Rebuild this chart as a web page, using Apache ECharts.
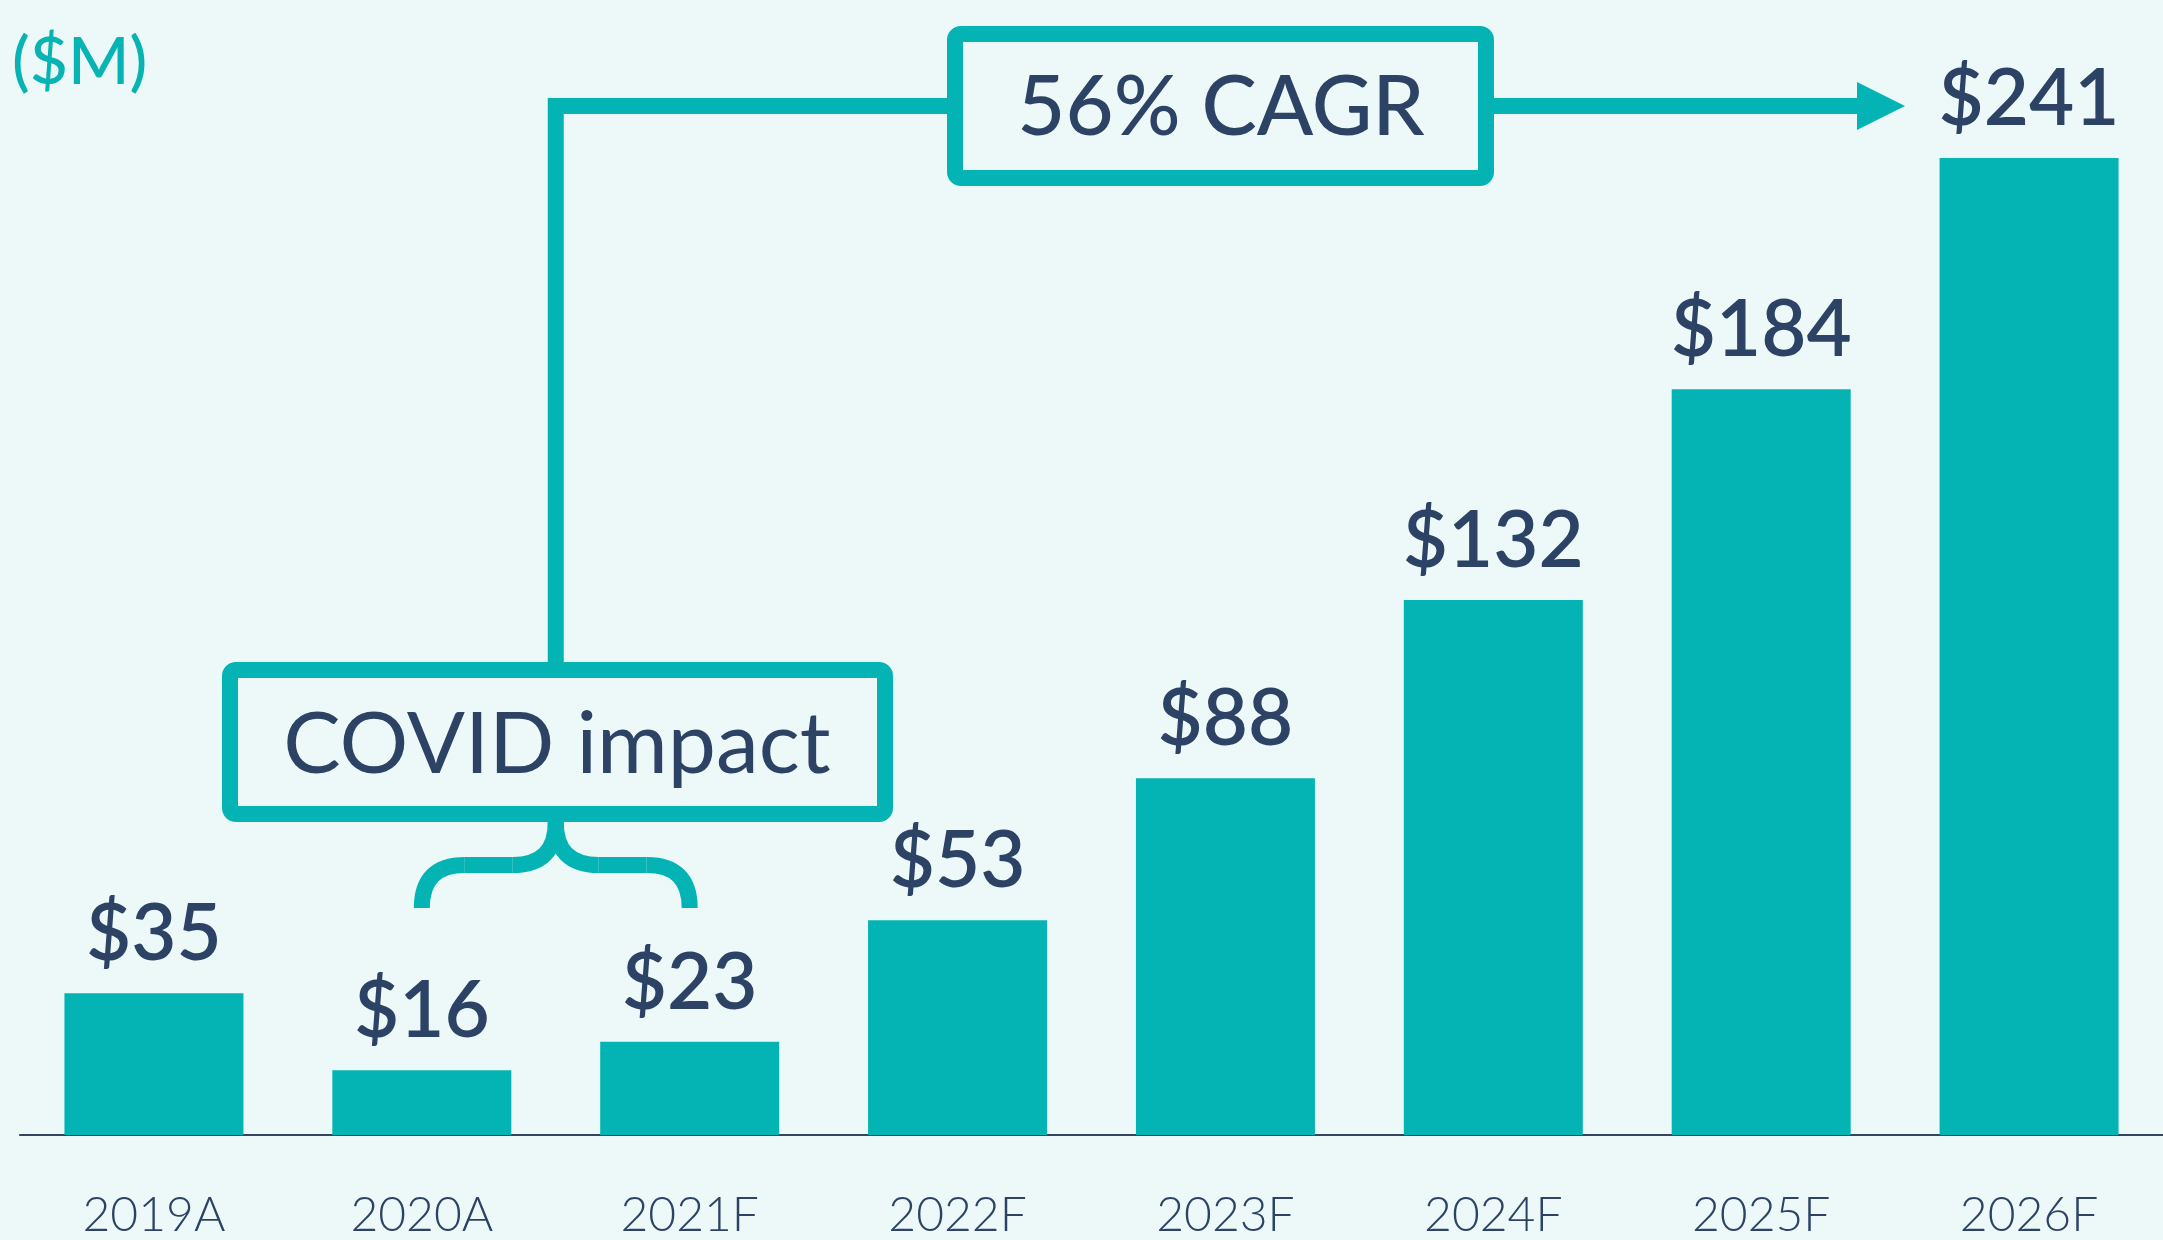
<!DOCTYPE html>
<html>
<head>
	<meta http-equiv="Content-Type" content="text/html; charset=utf-8" />
	<title>Revenue</title>
	<script src="https://cdn.jsdelivr.net/npm/echarts@6.0.0/dist/echarts.min.js"></script>
</head>
<body style="padding: 0;margin: 0;background: #edf9f9;">
<div id="main" style="width: 2163px;height:1240px;"></div>

<script type="text/javascript">
	var years = ['2019A', '2020A', '2021F', '2022F', '2023F', '2024F', '2025F', '2026F'];
	var revenue = [35, 16, 23, 53, 88, 132, 184, 241];

	var teal = '#04b4b4';
	var navy = '#2d4365';
	var font = 'Lato';

	var myChart = echarts.init(document.getElementById('main'));

	var option = {
		backgroundColor: '#edf9f9',
		animation: false,
		grid: { left: 20, width: 2150, top: 0, bottom: 104, containLabel: false },
		xAxis: {
			type: 'category',
			data: years,
			axisTick: { show: false },
			axisLine: { lineStyle: { color: '#34465e', width: 2 } },
			axisLabel: {
				margin: 57,
				color: navy,
				fontFamily: font,
				fontSize: 48,
				fontWeight: 300
			}
		},
		yAxis: {
			type: 'value',
			min: 0,
			max: 280,
			show: false,
			splitLine: { show: false }
		},
		series: [{
			type: 'bar',
			data: revenue,
			barWidth: 179,
			itemStyle: { color: teal },
			label: {
				show: true,
				position: 'top',
				distance: 19,
				formatter: function (p) { return '$' + p.value; },
				color: navy,
				fontFamily: font,
				fontSize: 78,
				fontWeight: 600
			}
		}]
	};
	myChart.setOption(option);

	// annotation: brace under COVID box spans the 2020A and 2021F bars
	var xa = myChart.convertToPixel({ xAxisIndex: 0 }, '2020A');
	var xb = myChart.convertToPixel({ xAxisIndex: 0 }, '2021F');
	var xm = (xa + xb) / 2;
	var lw = 16;
	var line = { stroke: teal, lineWidth: lw, fill: null };

	var boxTop = 670, boxBot = 814, braceY = 865, braceEnd = 908, r = 43;

	myChart.setOption({
		graphic: [
			{
				type: 'text', left: 12, top: 30,
				style: { text: '($M)', fill: '#07b3b3', font: '500 66px ' + font }
			},
			// CAGR box and arrow
			{
				type: 'rect', shape: { x: 955, y: 34, width: 531, height: 144, r: 6 },
				style: { stroke: teal, lineWidth: lw, fill: null }
			},
			{
				type: 'text', x: 1221, y: 108,
				style: { text: '56% CAGR', fill: navy, font: '500 83px ' + font, align: 'center', verticalAlign: 'middle' }
			},
			{
				type: 'polyline', shape: { points: [[xm, boxTop - 8], [xm, 106], [947, 106]] },
				style: { stroke: teal, lineWidth: lw, fill: null, lineJoin: 'miter', lineCap: 'butt' }
			},
			{
				type: 'line', shape: { x1: 1494, y1: 106, x2: 1860, y2: 106 },
				style: line
			},
			{
				type: 'polygon', shape: { points: [[1857, 82], [1905, 106], [1857, 130]] },
				style: { fill: teal }
			},
			// COVID box
			{
				type: 'rect', shape: { x: 230, y: boxTop, width: 655, height: boxBot - boxTop, r: 6 },
				style: { stroke: teal, lineWidth: lw, fill: null }
			},
			{
				type: 'text', x: 557, y: 745,
				style: { text: 'COVID impact', fill: navy, font: '400 86px ' + font, align: 'center', verticalAlign: 'middle' }
			},
			// brace
			{
				type: 'bezierCurve', shape: { x1: xm, y1: boxBot + 8, cpx1: xm, cpy1: braceY, x2: xm - r, y2: braceY },
				style: line
			},
			{
				type: 'line', shape: { x1: xm - r, y1: braceY, x2: xa + r, y2: braceY },
				style: line
			},
			{
				type: 'bezierCurve', shape: { x1: xa + r, y1: braceY, cpx1: xa, cpy1: braceY, x2: xa, y2: braceEnd },
				style: line
			},
			{
				type: 'bezierCurve', shape: { x1: xm, y1: boxBot + 8, cpx1: xm, cpy1: braceY, x2: xm + r, y2: braceY },
				style: line
			},
			{
				type: 'line', shape: { x1: xm + r, y1: braceY, x2: xb - r, y2: braceY },
				style: line
			},
			{
				type: 'bezierCurve', shape: { x1: xb - r, y1: braceY, cpx1: xb, cpy1: braceY, x2: xb, y2: braceEnd },
				style: line
			}
		]
	});
</script>
</body>
</html>
